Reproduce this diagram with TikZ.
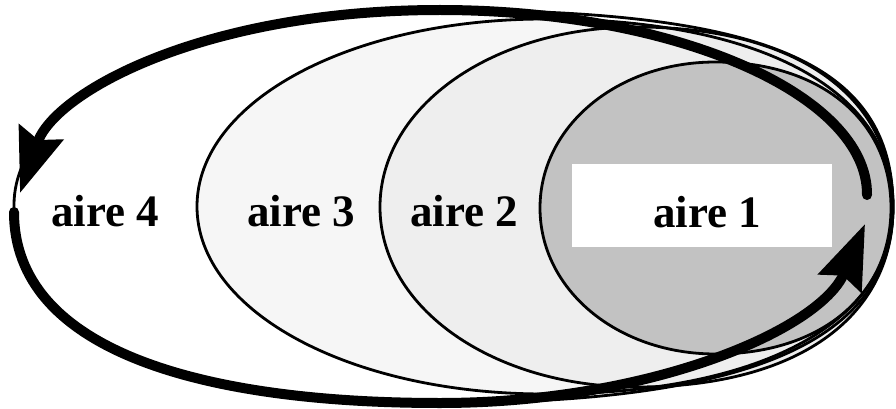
\documentclass[tikz,border=0pt]{standalone}
\usepackage{fontspec}
\setmainfont{Liberation Serif}
\usepackage{xcolor}
\definecolor{cInk}{HTML}{000000}
\definecolor{cZoneOne}{HTML}{C2C2C2}
\definecolor{cZoneTwo}{HTML}{EEEEEE}
\definecolor{cZoneThree}{HTML}{F6F6F6}
\usepackage{tikz}
\usetikzlibrary{positioning,arrows.meta}
\tikzset{
  zone-line/.style={draw=cInk,line width=2.8pt},
  area-label/.style={anchor=base,inner sep=0pt,
    font=\fontsize{45}{54}\selectfont\bfseries},
  label-hole/.style={fill=white,inner sep=0pt,
    minimum width=260pt,minimum height=83pt},
  loop-arrow/.style={draw=cInk,line width=10pt,line cap=round,
    -{Stealth[length=64pt,width=46pt,inset=8pt]}},
}
% cx, cy, rx, ry, left bulge, right bulge
\newcommand\zoneblob[6]{%
  (#1+#3,#2) .. controls (#1+#3,#2-#6*#4) and (#1+#6*#3,#2-#4) .. (#1,#2-#4)
  .. controls (#1-#5*#3,#2-#4) and (#1-#3,#2-#5*#4) .. (#1-#3,#2)
  .. controls (#1-#3,#2+#5*#4) and (#1-#5*#3,#2+#4) .. (#1,#2+#4)
  .. controls (#1+#6*#3,#2+#4) and (#1+#3,#2+#6*#4) .. (#1+#3,#2) -- cycle}

\begin{document}
\begin{tikzpicture}[x=1pt,y=-1pt]
  \useasboundingbox[fill=white] (0,0) rectangle (896,409);
  % nested areas, all touching on the right
  \fill[cZoneThree] \zoneblob{545}{206.5}{348}{187.5}{.56}{.62};
  \fill[cZoneTwo] \zoneblob{636.5}{207}{256.5}{180}{.56}{.62};
  \fill[cZoneOne] \zoneblob{715.5}{208}{175.5}{146}{.56}{.6};
  \draw[zone-line] (893,207) .. controls (893,60) and (760,10) .. (440,10)
    .. controls (204,10) and (14,95) .. (14,205)
    .. controls (14,350) and (200,403) .. (440,403)
    .. controls (740,403) and (893,345) .. cycle;
  \draw[zone-line] \zoneblob{545}{206.5}{348}{187.5}{.56}{.62};
  \draw[zone-line] \zoneblob{636.5}{207}{256.5}{180}{.56}{.62};
  \draw[zone-line] \zoneblob{715.5}{208}{175.5}{146}{.56}{.6};

  \node[label-hole] (hole) at (702,205.5) {};
  \node[area-label] (a4) at (105,226) {aire 4};
  \node[area-label] (a3) at (301,226) {aire 3};
  \node[area-label] (a2) at (464,226) {aire 2};
  \node[area-label] (a1) at (707,227) {aire 1};

  % the loop round all areas
  \coordinate (top-start) at (867,195);
  \coordinate (top-end) at (20,193);
  \coordinate (bot-start) at (14,212);
  \coordinate (bot-end) at (865,224);
  \draw[loop-arrow] (top-start) .. controls (868,95) and (676,10) .. (440,10)
    .. controls (204,10) and (55,92) .. (top-end);
  \draw[loop-arrow] (bot-start) .. controls (14,350) and (200,403) .. (440,403)
    .. controls (650,403) and (820,330) .. (bot-end);
\end{tikzpicture}
\end{document}
